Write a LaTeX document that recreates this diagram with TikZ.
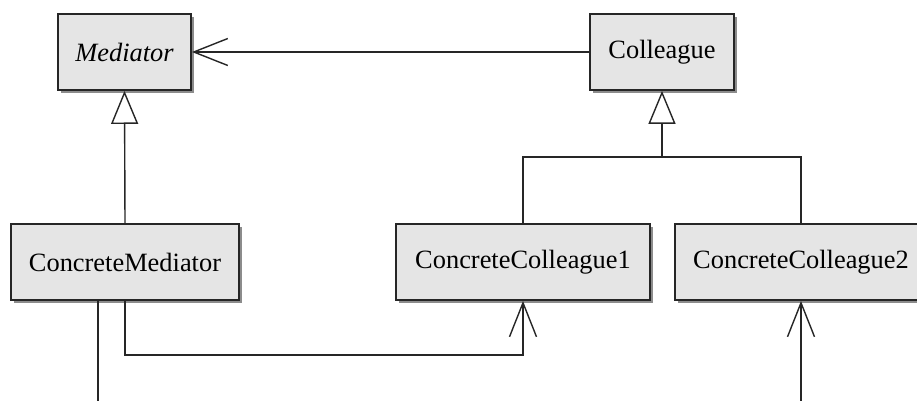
\documentclass[tikz,border=0pt]{standalone}
\usepackage{fontspec}
\setmainfont{Liberation Serif}
\usetikzlibrary{arrows.meta,shadows}
\begin{document}
\begin{tikzpicture}[x=0.5pt,y=-0.5pt,
  classbox/.style={draw=black!85, line width=0.9pt, fill=black!10,
    minimum height=38pt, inner sep=0pt,
    font=\fontsize{13.2}{16}\selectfont,
    drop shadow={shadow xshift=1.6pt, shadow yshift=-1.6pt, fill=black!45, opacity=1}},
  link/.style={draw=black!85, line width=0.7pt},
  inherit/.style={link, -{Triangle[open, length=16.5pt, width=13.5pt, fill=white]}},
  nav/.style={link, -{Straight Barb[length=17pt, width=13.5pt]}}]
  \useasboundingbox (0,0) rectangle (917,401);
  % abstract classes
  \node[classbox, minimum width=66.5pt] (med) at (124.5,52) {\itshape Mediator};
  \node[classbox, minimum width=72pt] (col) at (662,52) {Colleague};
  % concrete classes
  \node[classbox, minimum width=114pt] (cmed) at (125,262) {ConcreteMediator};
  \node[classbox, minimum width=127pt] (cc1) at (523,262) {ConcreteColleague1};
  \node[classbox, minimum width=126pt] (cc2) at (801,262) {ConcreteColleague2};
  % junction of the colleague hierarchy, and free line ends
  \coordinate (hub) at (662,157);
  \coordinate (cmEnd) at (98,401);
  \coordinate (cc2In) at (801,401);
  % associations
  \draw[nav] (col) -- (med);
  \draw[nav] (cmed.south) -- ++(0,54) -| (cc1.south);
  \draw[nav] (cc2In) -- (cc2.south);
  \draw[link] (cmEnd |- cmed.south) -- (cmEnd);
  % generalisations
  \draw[inherit] (cmed.north) -- (med.south);
  \draw[link] (cc1.north) -- (cc1.north |- hub) -- (cc2.north |- hub) -- (cc2.north);
  \draw[inherit] (hub) -- (col.south);
\end{tikzpicture}
\end{document}
